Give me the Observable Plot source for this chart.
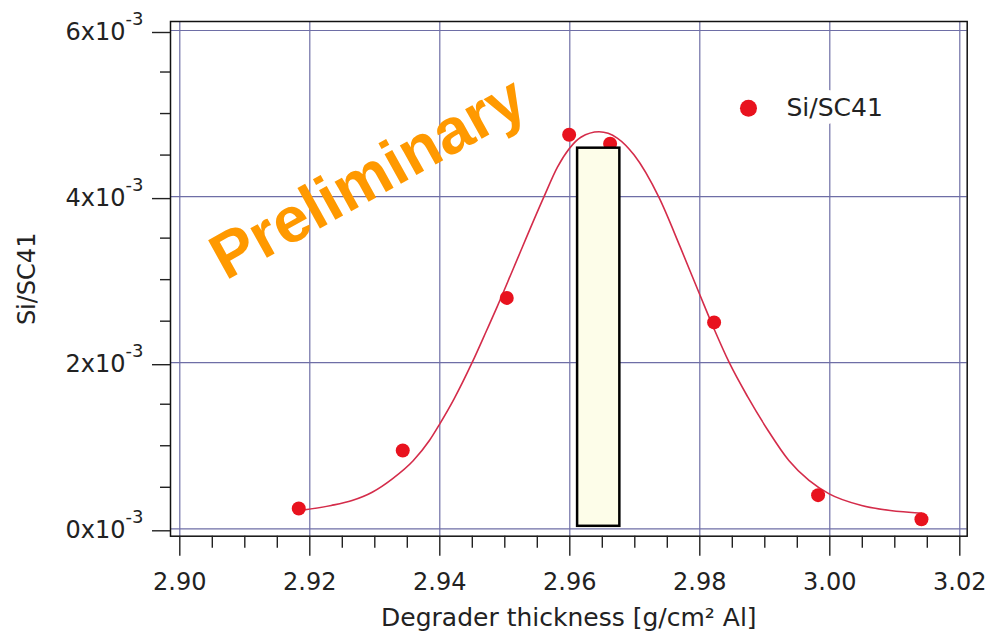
<!DOCTYPE html>
<html><head><meta charset="utf-8">
<script src="https://cdn.jsdelivr.net/npm/d3@7"></script>
<script src="https://cdn.jsdelivr.net/npm/@observablehq/plot@0.6"></script>
<style>body{margin:0;background:#fff;} svg{display:block;}</style>
</head><body><div id="chart"></div>
<script>
// measured points
const pointX = [2.9183, 2.9343, 2.9503, 2.9599, 2.9662, 2.9822, 2.9982, 3.0141];
const pointY = [0.244e-3, 0.943e-3, 2.780e-3, 4.744e-3, 4.636e-3, 2.485e-3, 0.405e-3, 0.115e-3];
// fitted curve
const fitX = [2.9183, 2.9233, 2.9265, 2.9296, 2.9327, 2.9359, 2.9384, 2.9400, 2.9422, 2.9450, 2.9472, 2.9488, 2.9514, 2.9560, 2.9581, 2.9599, 2.9617, 2.9645, 2.9673, 2.9699, 2.9737, 2.9770, 2.9801, 2.9823, 2.9845, 2.9874, 2.9905, 2.9937, 2.9968, 2.9999, 3.0049, 3.0093, 3.0141];
const fitY = [0.220e-3, 0.281e-3, 0.341e-3, 0.441e-3, 0.602e-3, 0.820e-3, 1.063e-3, 1.264e-3, 1.565e-3, 2.006e-3, 2.388e-3, 2.670e-3, 3.150e-3, 3.993e-3, 4.354e-3, 4.576e-3, 4.715e-3, 4.780e-3, 4.705e-3, 4.500e-3, 3.993e-3, 3.391e-3, 2.800e-3, 2.388e-3, 2.006e-3, 1.585e-3, 1.184e-3, 0.822e-3, 0.582e-3, 0.421e-3, 0.281e-3, 0.220e-3, 0.188e-3];
// highlighted box
const boxX = [2.9612, 2.9677];
const boxY = [0.00003, 4.583e-3];
// ticks
const xTicks = [2.90, 2.92, 2.94, 2.96, 2.98, 3.00, 3.02];
const xMinor = [2.905, 2.910, 2.915, 2.925, 2.930, 2.935, 2.945, 2.950, 2.955, 2.965, 2.970, 2.975, 2.985, 2.990, 2.995, 3.005, 3.010, 3.015];
const yTicks = [0, 0.002, 0.004, 0.006];
const yMinor = [0.0005, 0.001, 0.0015, 0.0025, 0.003, 0.0035, 0.0045, 0.005, 0.0055];
// labels
const seriesName = "Si/SC41";
const xTitle = "Degrader thickness [g/cm² Al]";
const yTitle = "Si/SC41";
const stamp = "Preliminary";
const stampPos = [2.9290, 4.22e-3];
const legendPos = [2.98749, 5.064e-3, 2.99333];

const points = pointX.map((x, i) => ({x, y: pointY[i]}));
const fit = fitX.map((x, i) => ({x, y: fitY[i]}));
const box = [{x1: boxX[0], x2: boxX[1], y1: boxY[0], y2: boxY[1]}];

const gridColor = "#6e6ea6";
const red = "#e8121e";

const chart = Plot.plot({
  width: 987, height: 632,
  marginLeft: 170, marginRight: 20.3, marginTop: 21, marginBottom: 96.3,
  style: {fontFamily: "DejaVu Sans", background: "white", color: "#222", overflow: "visible"},
  x: {domain: [2.90, 3.02], insetLeft: 9.3, insetRight: 7.4},
  y: {domain: [0, 0.006], insetTop: 9, insetBottom: 7.4},
  marks: [
    Plot.gridX(xTicks, {stroke: gridColor, strokeOpacity: 1, strokeWidth: 1.2}),
    Plot.gridY(yTicks, {stroke: gridColor, strokeOpacity: 1, strokeWidth: 1.2}),
    Plot.frame({stroke: "#111", strokeWidth: 1.5}),
    Plot.axisX(xMinor, {tickSize: 12, tickFormat: () => "", strokeWidth: 1.4, label: null}),
    Plot.axisX(xTicks, {tickSize: 20, tickPadding: 17, tickFormat: d3.format(".2f"), fontSize: 24, strokeWidth: 1.4, label: null}),
    Plot.axisY(yMinor, {tickSize: 10, tickFormat: () => "", strokeWidth: 1.4, label: null}),
    Plot.axisY(yTicks, {tickSize: 18, tickPadding: 9, dy: 2, tickFormat: d => `${Math.round(d * 1e3)}x10⁻³`, fontSize: 24, strokeWidth: 1.4, label: null}),
    Plot.line(fit, {x: "x", y: "y", curve: "monotone-x", stroke: "#d42c4a", strokeWidth: 1.6}),
    Plot.dot(points, {x: "x", y: "y", r: 7, fill: red}),
    Plot.rect(box, {x1: "x1", x2: "x2", y1: "y1", y2: "y2", fill: "#fdfde9", stroke: "#000", strokeWidth: 2.5}),
    Plot.text([stamp], {x: [stampPos[0]], y: [stampPos[1]], rotate: -29, fontSize: 64, fontWeight: "bold", fontFamily: "Liberation Sans", fill: "#ff9900"}),
    Plot.dot([seriesName], {x: [legendPos[0]], y: [legendPos[1]], r: 8.5, fill: red}),
    Plot.text([seriesName], {x: [legendPos[2]], y: [legendPos[1]], textAnchor: "start", fontSize: 25, fill: "#222", stroke: "white", strokeWidth: 16, paintOrder: "stroke", strokeLinejoin: "round"}),
    Plot.text([xTitle], {frameAnchor: "bottom", lineAnchor: "middle", textAnchor: "middle", dy: 82, fontSize: 25, fill: "#222"}),
    Plot.text([yTitle], {frameAnchor: "left", lineAnchor: "middle", textAnchor: "middle", dx: -143, rotate: -90, fontSize: 24, fill: "#222"})
  ]
});

const ns = "http://www.w3.org/2000/svg";
chart.querySelectorAll('g[aria-label="y-axis tick label"] text').forEach(t => {
  const parts = t.textContent.split("⁻³");
  if (parts.length === 2) {
    t.textContent = parts[0];
    const ts = document.createElementNS(ns, "tspan");
    ts.setAttribute("font-size", "18");
    ts.setAttribute("dy", "-15");
    ts.textContent = "-3";
    t.appendChild(ts);
  }
});
document.getElementById("chart").appendChild(chart);
</script>
</body></html>
